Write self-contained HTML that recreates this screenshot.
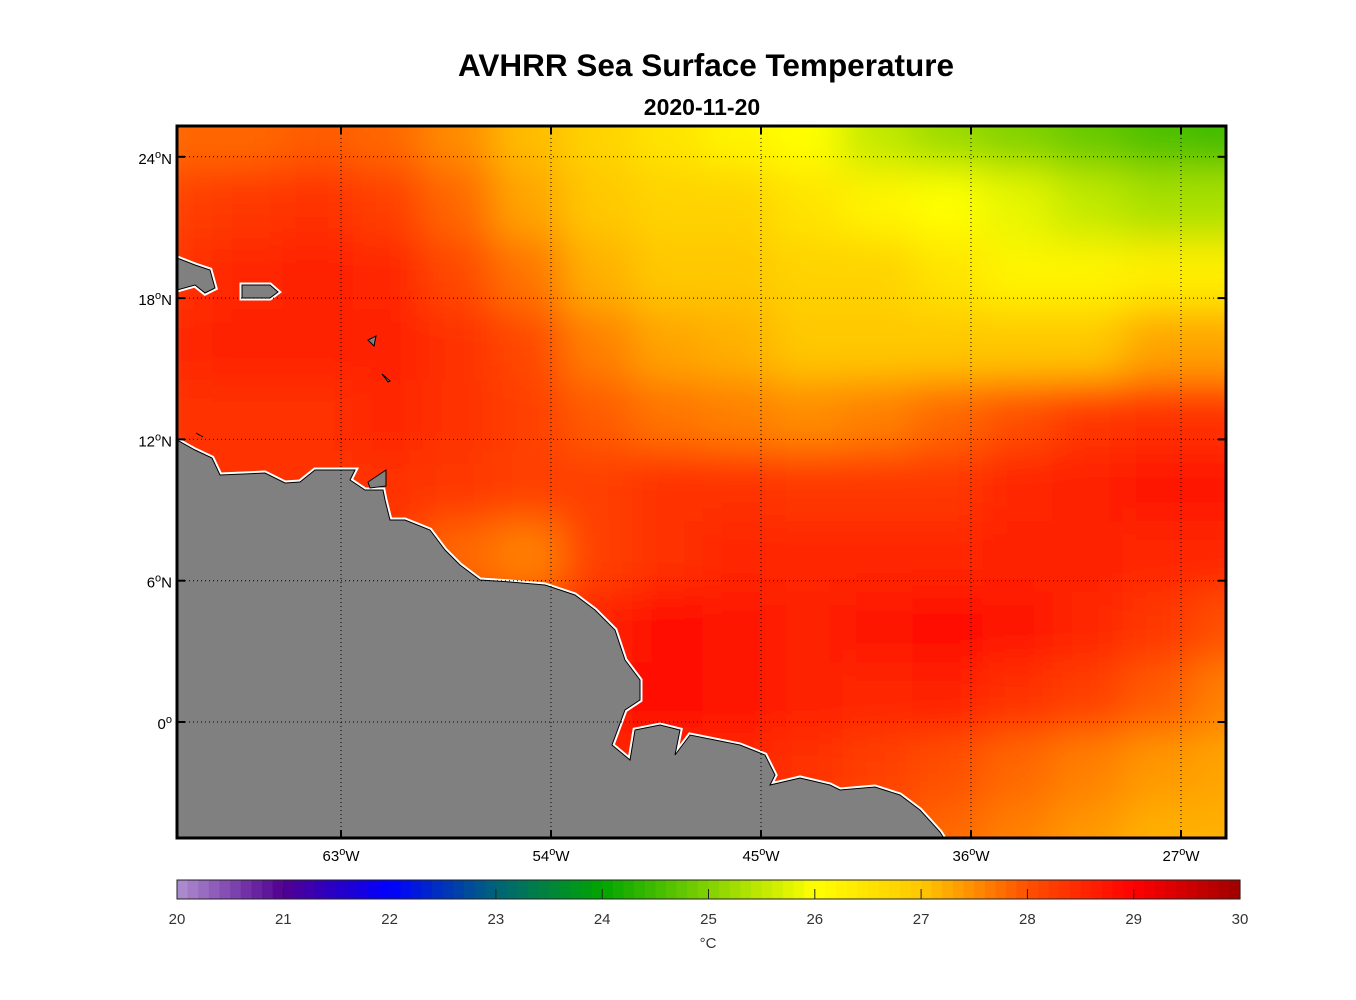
<!DOCTYPE html>
<html><head><meta charset="utf-8"><style>
body{margin:0;background:#fff;font-family:"Liberation Sans",sans-serif;}
svg{display:block}
</style></head><body>
<svg id="fig" width="1356" height="1000">
<defs>
<clipPath id="mapclip"><rect x="177" y="126" width="1049" height="712"/></clipPath>
<filter id="blur" x="-10%" y="-10%" width="120%" height="120%"><feGaussianBlur stdDeviation="20"/></filter>
</defs>
<text x="706" y="76" text-anchor="middle" font-size="31.5" font-weight="bold">AVHRR Sea Surface Temperature</text>
<text x="702" y="115" text-anchor="middle" font-size="23" font-weight="bold">2020-11-20</text>
<g id="heat" clip-path="url(#mapclip)"><g id="cells" filter="url(#blur)"></g></g>
<g id="land" clip-path="url(#mapclip)"></g>
<g id="grid"></g>
<rect x="177" y="126" width="1049" height="712" fill="none" stroke="#000" stroke-width="3"/>
<g id="ticks"></g>
<g id="cbar"></g>
<text x="708" y="948" text-anchor="middle" font-size="15" fill="#333">°C</text>
</svg>
<script>
const lonTicks=[-63,-54,-45,-36,-27];
const lonLabels=["63","54","45","36","27"];
const latTicks=[24,18,12,6,0];
const latLabels=["24","18","12","6","0"];
const cbTicks=[20,21,22,23,24,25,26,27,28,29,30];
const cellLons=[-70,-67,-64,-61,-58,-55,-52,-49,-46,-43,-40,-37,-34,-31,-28,-25];
const cellLats=[28,25,22,19,16,13,10,7,4,1,-2,-5];
const sst=[
[27.8,27.8,27.9,27.8,27.5,27.1,26.8,26.5,26.2,26,25.5,25.2,25,24.8,24.6,24.5],
[27.8,27.8,27.9,27.8,27.5,27.1,26.8,26.5,26.2,26,25.5,25.2,25,24.8,24.6,24.5],
[28.2,28.3,28.4,28.2,27.8,27.3,27,26.8,26.8,26.5,26.2,26,25.8,25.5,25.3,25.3],
[28.4,28.5,28.6,28.5,28.1,27.7,27.2,27,27,26.8,26.8,26.5,26.2,26.2,26.3,26.3],
[28.5,28.6,28.6,28.6,28.4,28.1,27.6,27.3,27.2,27,27,27,27,27,27.3,27.3],
[28.4,28.4,28.4,28.5,28.4,28.2,27.9,27.7,27.6,27.5,27.6,27.8,28,28.3,28.4,28.4],
[28.4,28.4,28.4,28.4,28.3,28.2,28.2,28.4,28.4,28.3,28.3,28.3,28.5,28.6,28.7,28.7],
[28.3,28.3,28.3,28.3,27.8,27.6,28.2,28.4,28.5,28.5,28.5,28.5,28.6,28.6,28.5,28.5],
[28.6,28.6,28.6,28.6,28.6,28.6,28.6,28.8,28.7,28.6,28.7,28.8,28.7,28.5,28.3,28],
[28.7,28.7,28.7,28.7,28.7,28.7,28.7,28.9,28.7,28.6,28.5,28.6,28.4,28.2,27.9,27.6],
[28.5,28.5,28.5,28.5,28.5,28.5,28.5,28.5,28.5,28.4,28.2,28,27.8,27.6,27.4,27.3],
[28.4,28.4,28.4,28.4,28.4,28.4,28.4,28.4,28.3,28.2,28,27.8,27.6,27.4,27.2,27.2]];
const stops=[[20,[176,144,208]],[21,[80,0,144]],[22,[0,0,255]],[23,[0,100,120]],[24,[0,165,0]],[25,[130,210,0]],[26,[255,255,0]],[27,[255,200,0]],[28,[255,80,0]],[29,[255,0,0]],[30,[160,0,0]]];
function color(v){v=Math.max(20,Math.min(30,v));for(let i=0;i<stops.length-1;i++){const[a,ca]=stops[i],[b,cb]=stops[i+1];if(v<=b){const t=(v-a)/(b-a);return 'rgb('+ca.map((c,k)=>Math.round(c+(cb[k]-c)*t)).join(',')+')';}}return 'rgb(160,0,0)';}
const X=lon=>341+(lon+63)*210/9;
const Y=lat=>722-lat*23.55;
const NS='http://www.w3.org/2000/svg';
function mk(tag,attrs,parent){const e=document.createElementNS(NS,tag);for(const k in attrs)e.setAttribute(k,attrs[k]);parent.appendChild(e);return e;}
const cells=document.getElementById('cells');
sst.forEach((row,i)=>row.forEach((v,j)=>{
 const lon=cellLons[j],lat=cellLats[i];
 const r=mk('rect',{x:X(lon)-35,y:Y(lat)-36,width:X(lon+3)-X(lon)+2,height:Y(lat-3)-Y(lat)+2,fill:color(v)},cells);
 
 
}));
const land=document.getElementById('land');
const shapes=[
[[177,440],[195,450],[212,458],[220,475],[265,473],[285,483],[300,482],[315,470],[355,470],[350,480],[365,490],[383,490],[385,500],[390,520],[405,520],[430,530],[445,550],[460,565],[480,580],[510,582],[545,585],[575,595],[595,610],[615,630],[625,660],[640,680],[640,700],[625,710],[612,745],[630,760],[635,730],[660,725],[680,730],[675,755],[690,735],[740,745],[765,755],[775,775],[770,785],[800,778],[830,785],[840,790],[875,787],[900,795],[920,810],[940,832],[945,840],[177,840]],
[[177,258],[195,265],[210,270],[215,288],[205,293],[195,285],[177,290]],
[[242,285],[270,285],[278,292],[270,298],[242,298]],
[[368,482],[386,470],[386,486],[370,488]],
[[368,340],[376,336],[374,346]],[[382,374],[390,381],[388,382]],[[196,433],[203,437]]];
shapes.forEach((s,i)=>{const d='M'+s.map(p=>p.join(',')).join('L')+'Z';
 mk('path',{d:d,fill:'none',stroke:'#fff','stroke-width':(i==0||i==1||i==2)?5:0},land);
});
shapes.forEach((s,i)=>{const d='M'+s.map(p=>p.join(',')).join('L')+'Z';
 const p=mk('path',{d:d,fill:'#808080',stroke:'#000','stroke-width':1},land);
 
 
});
const grid=document.getElementById('grid'),ticks=document.getElementById('ticks');
lonTicks.forEach((lon,i)=>{const x=X(lon);
 mk('line',{x1:x,x2:x,y1:126,y2:838,stroke:'#000','stroke-width':1,'stroke-dasharray':'1,3'},grid);
 mk('line',{x1:x,x2:x,y1:126,y2:134,stroke:'#000','stroke-width':2},ticks);
 mk('line',{x1:x,x2:x,y1:830,y2:838,stroke:'#000','stroke-width':2},ticks);
 const t=mk('text',{x:x,y:861,'text-anchor':'middle','font-size':15},ticks);
 t.innerHTML=lonLabels[i]+'<tspan dy="-6" font-size="11">o</tspan><tspan dy="6">W</tspan>';
 
 
});
latTicks.forEach((lat,i)=>{const y=Y(lat);
 mk('line',{x1:177,x2:1226,y1:y,y2:y,stroke:'#000','stroke-width':1,'stroke-dasharray':'1,3'},grid);
 mk('line',{x1:177,x2:185,y1:y,y2:y,stroke:'#000','stroke-width':2},ticks);
 mk('line',{x1:1218,x2:1226,y1:y,y2:y,stroke:'#000','stroke-width':2},ticks);
 const t=mk('text',{x:172,y:y+7,'text-anchor':'end','font-size':15},ticks);
 t.innerHTML=latLabels[i]+'<tspan dy="-6" font-size="11">o</tspan>'+(lat?'<tspan dy="6">N</tspan>':'');
 
 
});
const cb=document.getElementById('cbar');
const CX=v=>177+(v-20)*106.3;
for(let k=0;k<100;k++){const v=20+k*0.1;
 mk('rect',{x:CX(v),y:880,width:11.2,height:19,fill:color(v+0.05)},cb);}
mk('rect',{x:177,y:880,width:1063,height:19,fill:'none',stroke:'#222','stroke-width':1},cb);
cbTicks.forEach(v=>{const x=CX(v);
 if(v>20&&v<30)mk('line',{x1:x,x2:x,y1:889,y2:899,stroke:'#222','stroke-width':1},cb);
 const t=mk('text',{x:x,y:924,'text-anchor':'middle','font-size':15,fill:'#333'},cb);
 t.textContent=v;
 
 
});
</script>
</body></html>
